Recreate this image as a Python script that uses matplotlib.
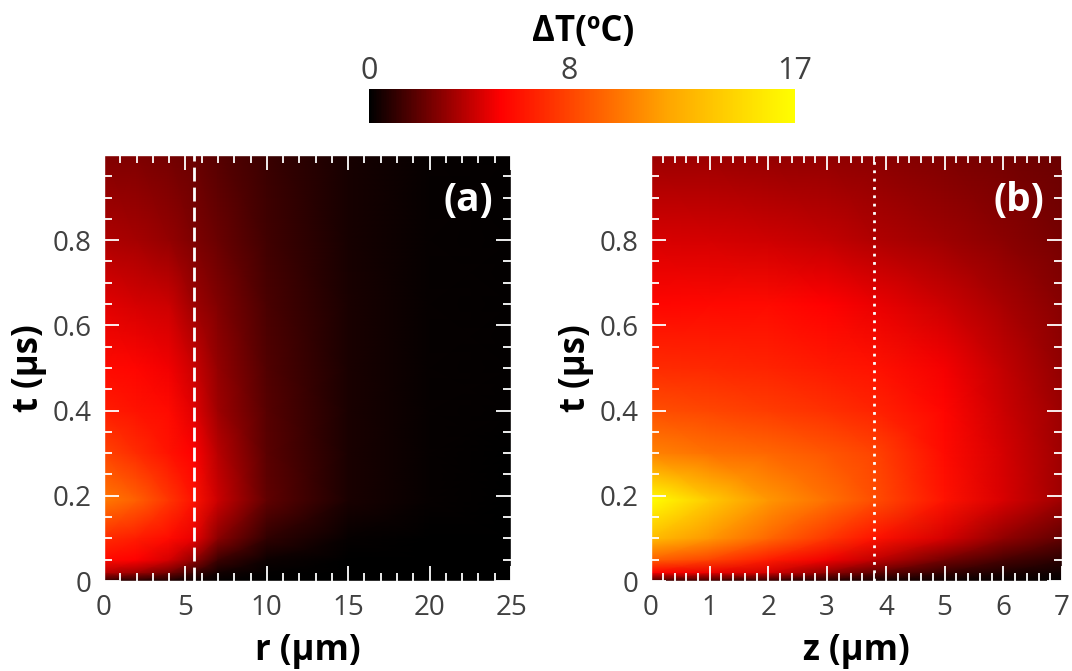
import numpy as np
import matplotlib
matplotlib.use('Agg')
from matplotlib import pyplot as plt
from matplotlib.colors import LinearSegmentedColormap
from matplotlib.ticker import MultipleLocator

plt.rcParams['font.family'] = ['Open Sans', 'DejaVu Sans']

# sample times (us) shared by both maps
t_us = [0.0, 0.02, 0.05, 0.1, 0.19, 0.3, 0.4, 0.5, 0.65, 0.8, 1.0]

# (a) radial profile, r in um
r_um = [0.0, 2.0, 4.0, 5.5, 7.0, 10.0, 15.0, 20.0, 25.0]
dT_r = [
    [0.9, 0.7, 0.5, 0.25, 0.1, 0.03, 0.0, 0.0, 0.0],
    [3.8, 3.3, 2.4, 1.3, 0.45, 0.1, 0.02, 0.0, 0.0],
    [5.7, 5.3, 4.4, 3.1, 1.3, 0.33, 0.05, 0.01, 0.0],
    [7.0, 6.4, 5.7, 4.9, 2.9, 1.0, 0.18, 0.06, 0.02],
    [10.1, 9.1, 7.4, 6.0, 4.2, 2.0, 0.55, 0.18, 0.06],
    [8.0, 7.0, 6.0, 5.3, 3.8, 1.9, 0.55, 0.18, 0.06],
    [6.4, 6.0, 5.7, 4.7, 3.3, 1.8, 0.55, 0.18, 0.07],
    [5.7, 5.5, 5.0, 4.2, 3.1, 1.7, 0.55, 0.18, 0.07],
    [4.7, 4.4, 4.2, 3.3, 2.7, 1.55, 0.55, 0.18, 0.07],
    [3.6, 3.4, 3.1, 2.6, 2.2, 1.35, 0.5, 0.18, 0.07],
    [2.7, 2.6, 2.4, 2.2, 1.8, 1.2, 0.5, 0.18, 0.07],
]

# (b) axial profile, z in um
z_um = [0.0, 1.0, 2.0, 3.0, 3.8, 5.0, 6.0, 7.0]
dT_z = [
    [1.3, 1.1, 0.9, 0.6, 0.45, 0.22, 0.15, 0.1],
    [5.3, 4.9, 4.4, 3.0, 2.0, 1.1, 0.6, 0.35],
    [9.1, 8.0, 6.4, 5.0, 4.0, 2.4, 1.5, 0.9],
    [13.2, 11.3, 9.4, 7.5, 6.0, 4.4, 3.0, 2.0],
    [17.0, 14.0, 11.3, 9.8, 8.4, 6.0, 4.5, 3.3],
    [10.5, 9.8, 9.4, 8.7, 8.0, 5.7, 4.4, 3.3],
    [8.4, 8.1, 7.7, 7.2, 6.7, 5.5, 4.2, 3.2],
    [7.0, 6.9, 6.7, 6.3, 6.0, 5.1, 4.0, 3.0],
    [5.5, 5.6, 5.7, 5.3, 4.9, 4.2, 3.5, 2.8],
    [4.5, 4.4, 4.3, 4.0, 3.7, 3.3, 2.9, 2.5],
    [3.2, 3.2, 3.1, 3.0, 2.9, 2.6, 2.4, 2.2],
]

r_edge = 5.5   # dashed marker in (a)
z_edge = 3.8   # dotted marker in (b)
cbar_ticks = [0, 8, 17]

heat = LinearSegmentedColormap.from_list(
    'heat', [(0.0, 'black'), (0.31, 'red'), (0.7, 'orange'), (1.0, 'yellow')])

fig = plt.figure(figsize=(10.72, 6.71), dpi=100)
ax_a = fig.add_axes([0.097, 0.1341, 0.3797, 0.635])
ax_b = fig.add_axes([0.6073, 0.1341, 0.3834, 0.635])
cax = fig.add_axes([0.3442, 0.8167, 0.3974, 0.0507])

grey = '#404040'


def draw_map(ax, x, values, xlabel, xmax, xmajor, xminor, tag):
    mesh = ax.pcolormesh(x, t_us, np.array(values), cmap=heat, vmin=0, vmax=17,
                         shading='gouraud', rasterized=True)
    ax.set_xlim(0, xmax)
    ax.set_ylim(0, 1.0)
    ax.set_yticks([0, 0.2, 0.4, 0.6, 0.8])
    ax.set_yticklabels(['0', '0.2', '0.4', '0.6', '0.8'])
    ax.xaxis.set_major_locator(MultipleLocator(xmajor))
    ax.xaxis.set_minor_locator(MultipleLocator(xminor))
    ax.yaxis.set_minor_locator(MultipleLocator(0.05))
    ax.tick_params(which='both', direction='in', color='white',
                   top=True, right=True, labelsize=20, labelcolor=grey, pad=9)
    ax.tick_params(which='major', length=11, width=1.3)
    ax.tick_params(which='minor', length=6, width=1.3)
    for s in ax.spines.values():
        s.set_color('white')
        s.set_linewidth(1)
    ax.set_xlabel(xlabel, fontsize=25, fontweight='bold', labelpad=8)
    ax.set_ylabel('t (µs)', fontsize=25, fontweight='bold', labelpad=4)
    ax.text(0.957, 0.894, tag, transform=ax.transAxes, color='white',
            fontsize=28, fontweight='bold', ha='right', va='center')
    return mesh


mesh = draw_map(ax_a, r_um, dT_r, 'r (µm)', 25, 5, 1, '(a)')
ax_a.axvline(r_edge, color='white', lw=2, ls=(0, (5, 2.2)))

draw_map(ax_b, z_um, dT_z, 'z (µm)', 7, 1, 0.2, '(b)')
ax_b.axvline(z_edge, color='white', lw=2, ls=(0, (1, 2)))

cb = fig.colorbar(mesh, cax=cax, orientation='horizontal', ticks=cbar_ticks)
cb.outline.set_visible(False)
cax.xaxis.set_ticks_position('top')
cax.xaxis.set_label_position('top')
cax.tick_params(length=0, labelsize=22, labelcolor=grey, pad=2)
cax.set_xticklabels([str(v) for v in cbar_ticks])
fig.text(0.544, 0.953, 'ΔT(ºC)', fontsize=25, fontweight='bold',
         ha='center', va='center')

fig.savefig('out.png', dpi=100)
